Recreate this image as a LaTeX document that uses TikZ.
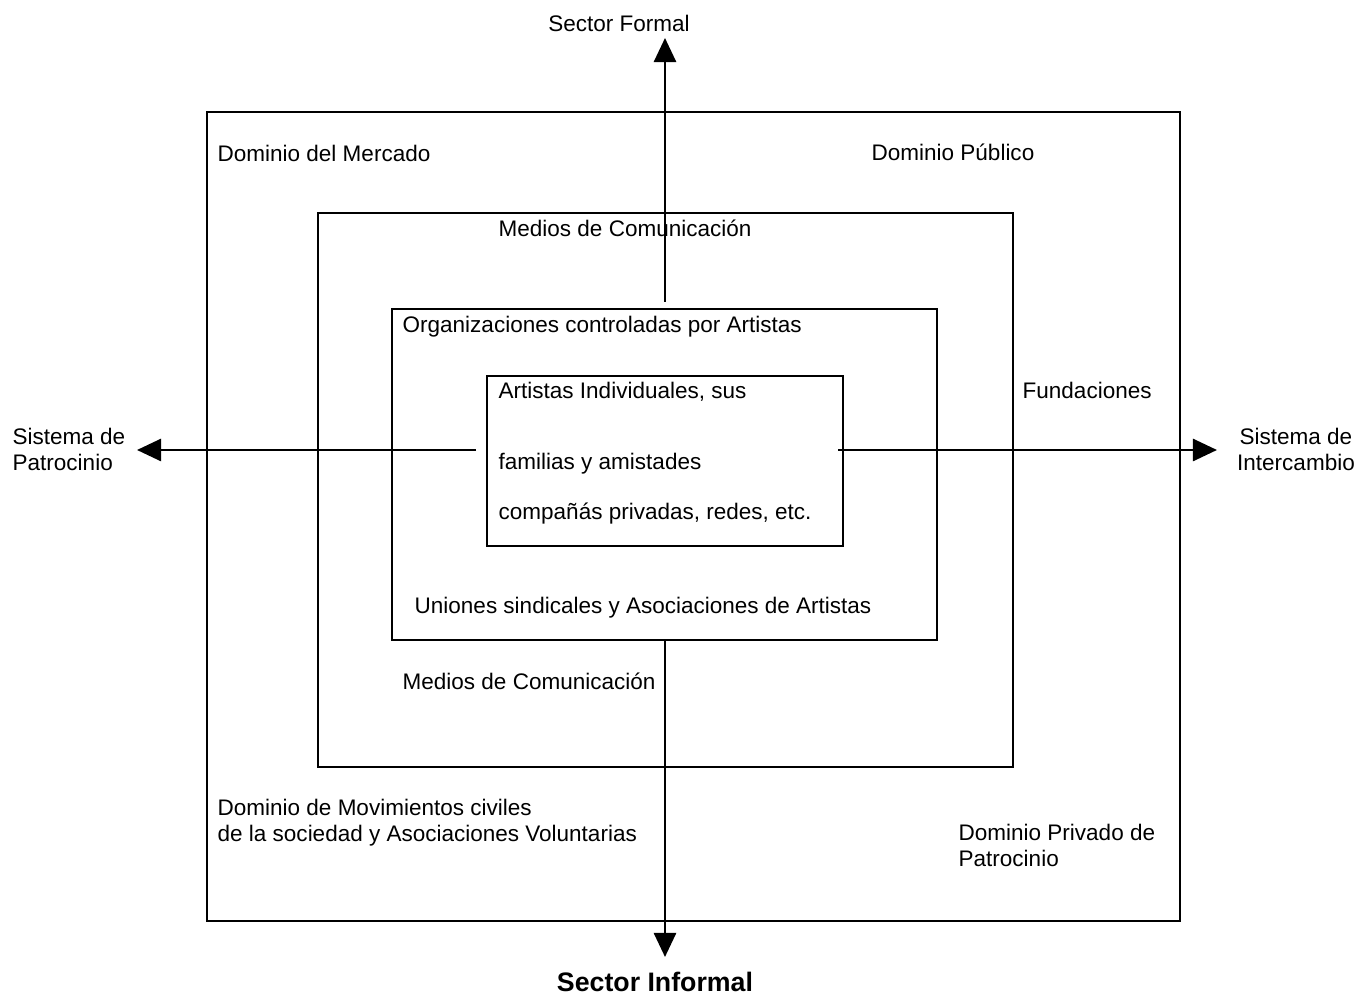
\documentclass[tikz,border=0pt]{standalone}
\usepackage{fontspec}
\setmainfont{Liberation Sans}
\usetikzlibrary{arrows.meta}

\tikzset{
  lbl/.style={inner sep=0pt, anchor=base west, align=left, font=\fontsize{6.4}{7.4}\selectfont},
  frame/.style={draw, line width=0.45pt},
  axis/.style={line width=0.75pt, -{Triangle[length=0.24cm, width=0.22cm]}}
}

\begin{document}
\begin{tikzpicture}[x=0.01cm, y=-0.01cm]
    \useasboundingbox (0,0) rectangle (1359,994);
    \draw[frame] (207,112) rectangle (1180,921);
    \draw[frame] (318,213) rectangle (1013,767);
    \draw[frame] (392,309) rectangle (937,640);
    \draw[frame] (487,376) rectangle (843,546);
    \coordinate (upfrom) at (665,302);
    \coordinate (upto) at (665,38);
    \coordinate (downfrom) at (665,640);
    \coordinate (downto) at (665,957);
    \coordinate (leftfrom) at (476,450);
    \coordinate (leftto) at (137,450);
    \coordinate (rightfrom) at (838,450);
    \coordinate (rightto) at (1217,450);
    \draw[axis] (upfrom) -- (upto);
    \draw[axis] (downfrom) -- (downto);
    \draw[axis] (leftfrom) -- (leftto);
    \draw[axis] (rightfrom) -- (rightto);
    \node[lbl, anchor=base] (formal) at (619,32) {Sector Formal};
    \node[lbl, anchor=base, font=\fontsize{7.6}{9}\selectfont\bfseries] (informal) at (655,992) {Sector Informal};
    \node[lbl] (patrocinio) at (12,471) {Sistema de\\Patrocinio};
    \node[lbl, anchor=base, align=center] (intercambio) at (1296,471) {Sistema de\\Intercambio};
    \node[lbl] (mercado) at (217,162) {Dominio del Mercado};
    \node[lbl] (publico) at (871,161) {Dominio Público};
    \node[lbl] (mediosA) at (498,237) {Medios de Comunicación};
    \node[lbl] (organiz) at (402,333) {Organizaciones controladas por Artistas};
    \node[lbl] (artistas) at (498,399) {Artistas Individuales, sus};
    \node[lbl] (familias) at (498,470) {familias y amistades};
    \node[lbl] (companas) at (498,520) {compañás privadas, redes, etc.};
    \node[lbl] (fundac) at (1022,399) {Fundaciones};
    \node[lbl] (uniones) at (414,614) {Uniones sindicales y Asociaciones de Artistas};
    \node[lbl] (mediosB) at (402,690) {Medios de Comunicación};
    \node[lbl] (civiles) at (217,842) {Dominio de Movimientos civiles\\de la sociedad y Asociaciones Voluntarias};
    \node[lbl] (privado) at (958,867) {Dominio Privado de\\Patrocinio};
\end{tikzpicture}
\end{document}
